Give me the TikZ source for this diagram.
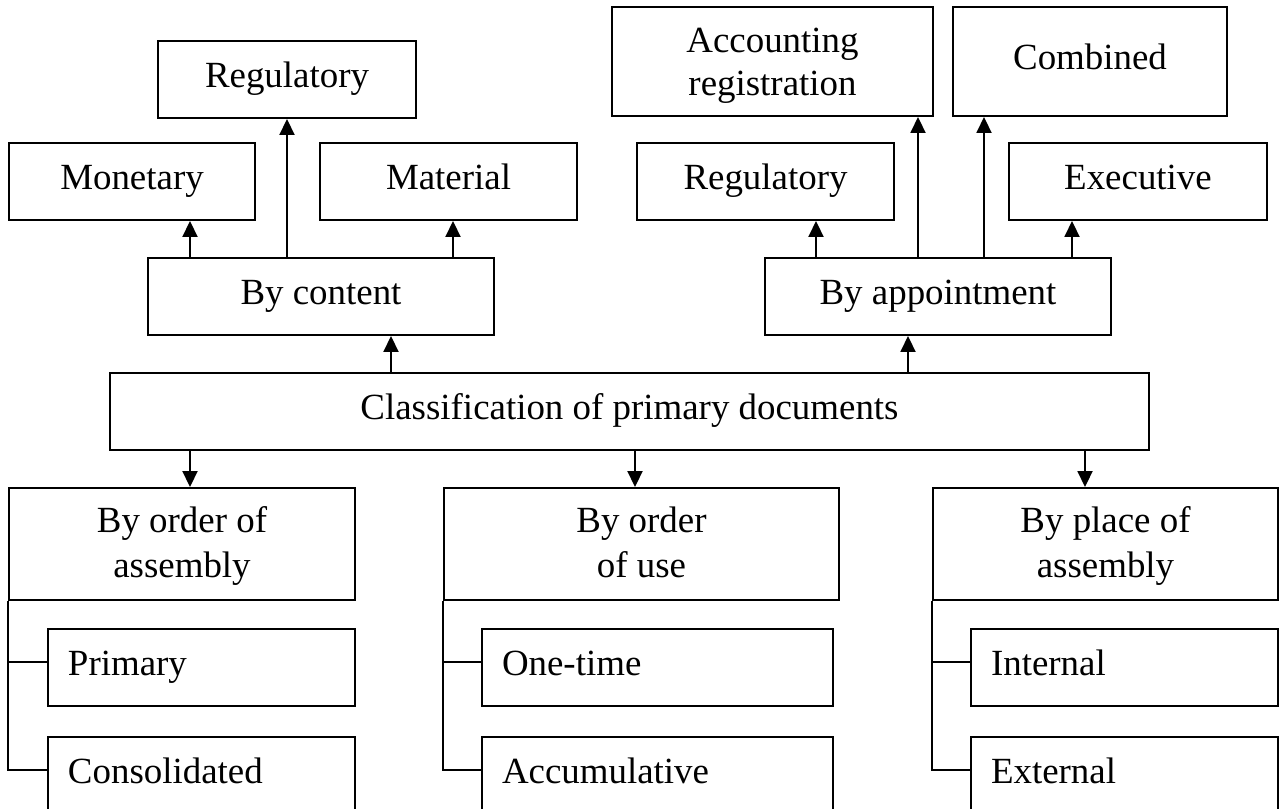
\documentclass[tikz,border=0pt]{standalone}
\usepackage{fontspec}
\setmainfont{Liberation Serif}
\usepackage{tikz}
\usetikzlibrary{arrows.meta,positioning}

\tikzset{
  % Plain category box
  cbox/.style={rectangle,draw=black,line width=1.1pt,
    minimum height=1.54cm,inner sep=2pt,align=center,
    text height=0.5cm,text depth=0.18cm,
    font=\fontsize{21}{24}\selectfont},
  % Two-line box
  tbox/.style={cbox,text height=1.52cm,text depth=0.18cm},
  % Two-line group heading
  gbox/.style={cbox,minimum height=2.24cm,
    text height=1.52cm,text depth=0.18cm,
    font=\fontsize{21}{25.5}\selectfont},
  % Leaf item, text flush left
  lbox/.style={cbox,align=left,inner xsep=0.4cm},
  % Arrows and tree lines
  arr/.style={-{Triangle[length=0.32cm,width=0.3cm]},line width=1.1pt},
  tree/.style={line width=1.1pt},
}

\begin{document}
\begin{tikzpicture}
  \useasboundingbox (0,0) rectangle (25.64,-16.16);

  % root
  \node[cbox,minimum width=20.78cm] (cls) at (12.59,-8.23)
    {Classification of primary documents};

  % upper branches
  \node[cbox,minimum width=6.92cm] (content) at (6.42,-5.93) {By content};
  \node[cbox,minimum width=6.92cm] (appt) at (18.76,-5.93) {By appointment};

  \node[cbox,minimum width=4.92cm] (money) at (2.64,-3.63) {Monetary};
  \node[cbox,minimum width=5.14cm] (mater) at (8.97,-3.63) {Material};
  \node[cbox,minimum width=5.16cm] (regL) at (5.74,-1.59) {Regulatory};

  \node[cbox,minimum width=5.14cm] (regR) at (15.31,-3.63) {Regulatory};
  \node[cbox,minimum width=5.16cm] (exec) at (22.76,-3.63) {Executive};
  \node[tbox,minimum width=6.42cm,minimum height=2.18cm] (acc) at (15.45,-1.23)
    {Accounting\\registration};
  \node[cbox,minimum width=5.48cm,minimum height=2.18cm] (comb) at (21.8,-1.23)
    {Combined};

  % lower branches
  \node[gbox,minimum width=6.92cm] (ordA) at (3.64,-10.88)
    {By order of\\assembly};
  \node[gbox,minimum width=7.9cm] (ordU) at (12.83,-10.88)
    {By order\\of use};
  \node[gbox,minimum width=6.9cm] (place) at (22.11,-10.88)
    {By place of\\assembly};

  \node[lbox,text width=5.34cm,below right=0.54cm and 0.78cm of ordA.south west]
    (prim) {Primary};
  \node[lbox,text width=5.34cm,below=0.58cm of prim] (cons) {Consolidated};
  \node[lbox,text width=6.22cm,below right=0.54cm and 0.76cm of ordU.south west]
    (once) {One-time};
  \node[lbox,text width=6.22cm,below=0.58cm of once] (accu) {Accumulative};
  \node[lbox,text width=5.34cm,below right=0.54cm and 0.76cm of place.south west]
    (intl) {Internal};
  \node[lbox,text width=5.34cm,below=0.58cm of intl] (extl) {External};

  % arrows up
  \draw[arr] ([xshift=1.4cm]content.south |- cls.north) -- ([xshift=1.4cm]content.south);
  \draw[arr] ([xshift=-0.6cm]appt.south |- cls.north) -- ([xshift=-0.6cm]appt.south);
  \draw[arr] ([xshift=1.16cm]money.south |- content.north) -- ([xshift=1.16cm]money.south);
  \draw[arr] (regL.south |- content.north) -- (regL.south);
  \draw[arr] ([xshift=0.09cm]mater.south |- content.north) -- ([xshift=0.09cm]mater.south);
  \draw[arr] ([xshift=1.01cm]regR.south |- appt.north) -- ([xshift=1.01cm]regR.south);
  \draw[arr] ([xshift=2.91cm]acc.south |- appt.north) -- ([xshift=2.91cm]acc.south);
  \draw[arr] ([xshift=-2.12cm]comb.south |- appt.north) -- ([xshift=-2.12cm]comb.south);
  \draw[arr] ([xshift=-1.32cm]exec.south |- appt.north) -- ([xshift=-1.32cm]exec.south);

  % arrows down
  \draw[arr] ([xshift=0.16cm]ordA.north |- cls.south) -- ([xshift=0.16cm]ordA.north);
  \draw[arr] ([xshift=-0.13cm]ordU.north |- cls.south) -- ([xshift=-0.13cm]ordU.north);
  \draw[arr] ([xshift=-0.41cm]place.north |- cls.south) -- ([xshift=-0.41cm]place.north);

  % trees
  \draw[tree] (ordA.south west) |- ([yshift=1mm]cons.west);
  \draw[tree] ([yshift=1mm]prim.west -| ordA.west) -- ([yshift=1mm]prim.west);
  \draw[tree] (ordU.south west) |- ([yshift=1mm]accu.west);
  \draw[tree] ([yshift=1mm]once.west -| ordU.west) -- ([yshift=1mm]once.west);
  \draw[tree] (place.south west) |- ([yshift=1mm]extl.west);
  \draw[tree] ([yshift=1mm]intl.west -| place.west) -- ([yshift=1mm]intl.west);
\end{tikzpicture}
\end{document}
